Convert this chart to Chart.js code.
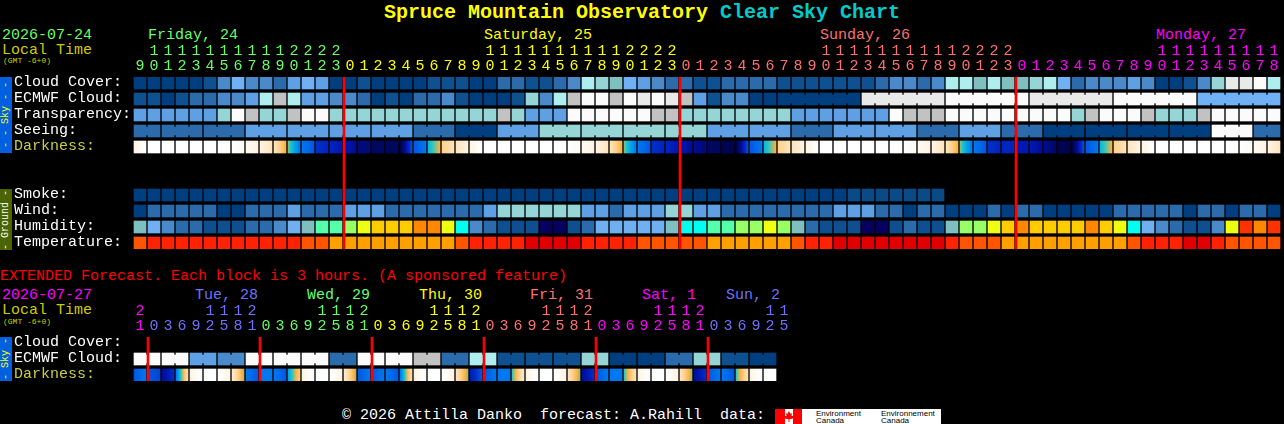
<!DOCTYPE html>
<html>
<head>
<meta charset="utf-8">
<title>Spruce Mountain Observatory Clear Sky Chart</title>
<script src="https://cdn.jsdelivr.net/npm/chart.js@4"></script>
<style>
  html, body { margin: 0; padding: 0; background: #000; width: 1284px; height: 424px; overflow: hidden; }
  canvas { position: absolute; left: 0; }
  .t { position: absolute; font: 15px/16px "Liberation Mono", monospace; white-space: pre; }
  .small { font-size: 8px; line-height: 8px; }
  .title { font: bold 20px/22px "Liberation Mono", monospace; top: 2px; }
  .side { position: absolute; left: 0; width: 12px; overflow: hidden; }
  .side span { position: absolute; left: 6px; top: 50%; font: 10px/12px "Liberation Mono", monospace;
    white-space: pre; transform: translate(-50%, -50%) rotate(-90deg); }
</style>
</head>
<body>
<span class="t title" style="left:384px;color:#ffff00">Spruce Mountain Observatory</span>
<span class="t title" style="left:720px;color:#00cccc">Clear Sky Chart</span>

<span class="t" style="left:2px;top:28px;color:#66ff66">2026-07-24</span>
<span class="t" style="left:2px;top:43px;color:#cccc00">Local Time</span>
<span class="t small" style="left:3px;top:57px;color:#cccc00">(GMT -6+0)</span>
<span class="t" style="left:148px;top:28px;color:#66ff66">Friday, 24</span>
<span class="t" style="left:484px;top:28px;color:#ffff00">Saturday, 25</span>
<span class="t" style="left:820px;top:28px;color:#ff7070">Sunday, 26</span>
<span class="t" style="left:1156px;top:28px;color:#ff00ff">Monday, 27</span>

<div class="side" style="top:77px;height:76px;background:#0060e0;color:#ffff00"><span>- - Sky - -</span></div>
<div class="side" style="top:189px;height:61px;background:#4a6400;color:#ffffff"><span>- Ground -</span></div>

<span class="t" style="left:0;top:269px;color:#ff0000">EXTENDED Forecast. Each block is 3 hours. (A sponsored feature)</span>
<span class="t" style="left:2px;top:288px;color:#ff00ff">2026-07-27</span>
<span class="t" style="left:2px;top:303px;color:#cccc00">Local Time</span>
<span class="t small" style="left:3px;top:318px;color:#cccc00">(GMT -6+0)</span>
<span class="t" style="left:195px;top:288px;color:#7070ff">Tue, 28</span>
<span class="t" style="left:307px;top:288px;color:#66ff66">Wed, 29</span>
<span class="t" style="left:419px;top:288px;color:#ffff00">Thu, 30</span>
<span class="t" style="left:530px;top:288px;color:#ff7070">Fri, 31</span>
<span class="t" style="left:642px;top:288px;color:#ff00ff">Sat, 1</span>
<span class="t" style="left:726px;top:288px;color:#7070ff">Sun, 2</span>

<div class="side" style="top:337px;height:44px;background:#0060e0;color:#ffff00"><span>- Sky -</span></div>

<span class="t" style="left:342px;top:408px;color:#ffffff">© 2026 Attilla Danko  forecast: A.Rahill  data:</span>
<div style="position:absolute;left:775px;top:409px;width:166px;height:15px;background:#fff">
  <div style="position:absolute;left:0;top:0;width:10px;height:15px;background:#ff0000"></div>
  <div style="position:absolute;left:18px;top:0;width:9px;height:15px;background:#ff0000"></div>
  <div style="position:absolute;left:9px;top:2px;width:10px;height:11px;background:#ff0000;clip-path:polygon(50% 0,65% 25%,80% 20%,75% 45%,100% 45%,85% 70%,55% 75%,55% 100%,45% 100%,45% 75%,15% 70%,0 45%,25% 45%,20% 20%,35% 25%)"></div>
  <span style="position:absolute;left:41px;top:1px;font:8px/7px 'Liberation Sans',sans-serif;color:#000;white-space:pre">Environment
Canada</span>
  <span style="position:absolute;left:106px;top:1px;font:8px/7px 'Liberation Sans',sans-serif;color:#000;white-space:pre">Environnement
Canada</span>
</div>

<canvas id="mainChart" width="1284" height="252" style="top:0"></canvas>
<canvas id="extChart" width="1284" height="384" style="top:0"></canvas>

<script>
// hour labels, one per column
var mainHours = [9,10,11,12,13,14,15,16,17,18,19,20,21,22,23,
  0,1,2,3,4,5,6,7,8,9,10,11,12,13,14,15,16,17,18,19,20,21,22,23,
  0,1,2,3,4,5,6,7,8,9,10,11,12,13,14,15,16,17,18,19,20,21,22,23,
  0,1,2,3,4,5,6,7,8,9,10,11,12,13,14,15,16,17,18];
var extHours = [21,
  0,3,6,9,12,15,18,21, 0,3,6,9,12,15,18,21, 0,3,6,9,12,15,18,21,
  0,3,6,9,12,15,18,21, 0,3,6,9,12,15,18,21, 0,3,6,9,12,15];

var mainRows = ["Cloud Cover:", "ECMWF Cloud:", "Transparency:", "Seeing:", "Darkness:", "", "",
  "Smoke:", "Wind:", "Humidity:", "Temperature:"];
var extRows = ["Cloud Cover:", "ECMWF Cloud:", "Darkness:"];

// first column of each day and its colour
var mainDayStarts = [0, 15, 39, 63];
var mainDayColors = ["#66ff66", "#ffff00", "#ff7070", "#ff00ff"];
var extDayStarts = [0, 1, 9, 17, 25, 33, 41];
var extDayColors = ["#ff00ff", "#7070ff", "#66ff66", "#ffff00", "#ff7070", "#ff00ff", "#7070ff"];

// columns where a new local day begins (red marks)
var mainMidnights = [15, 39, 63];
var extMidnights = [1, 9, 17, 25, 33, 41];

// sky levels, 0 = clear ... 11 = overcast
var cloudCover = [0,0,0,0,0,1,3,5,3,3,2,4,5,4,0, 0,1,0,0,0,0,
  1,1,1,0,0,2,2,1,1,2,3, 8,7,6,5,4,3,2,
  2,1,1,2,2,2,2,1,1,1,1,1,1, 1,2,3,3,2,3,
  8,8,6,8,6,6,7,8, 5,2,3,3,3,4,3, 0,0,1,3,7,10,10,11,8];
var ecmwfCloud = [1,1,0,1,2,2,3,3,4,8,9,8,4,4,3,3,2,0,1,0,2,
  2,3,1,0,0,0,1,7,3,8,9,11,11,9,11,10,11,10,9,4,1,3,3,0,0,
  0,0,0,0,0,0, 10,10,10,10,10,10, 11,11,11,11,11,11,
  10,10,10,10,10,10, 11,11,11,11,11,11, 5,5,5,5,5,5];
var transparency = [4,4,4,4,4,4,7,11,9,7,7,9,11,11,7,7,7,7,7,7,7,
  7,7,7,7,7,9,7,4,4,4,11,11,11,11,11,11,9,9,7,7,7,7,7,7,7,7,
  4,4,4,4,4,4,4,
  11,9,9,9,11,11,11,11,11,11,11,11,11,7,9,11,11,11,9,7,7,7,9,11,11,11,11,11];
var seeing = [2,2,2,2,2,2,2,2, 4,4,4,4,4,4,4,4,4,4,4,4, 2,2,2, 0,0,0, 4,4,4,
  7,7,7,7,7,7,7,7,7,7,7,7, 4,4,4,4,4,4, 2,2,2, 4,4,4,4,4,4, 2,2,2, 4,4,4, 2,2,2,
  0,0,0,0,0,0,0,0,0,0,0,0, 11,11,11, 2,2];
var smoke = [0,0,0,0,0,0,0,0,0,0,0,0,0,0,0,0,0,0,0,0,0,0,0,0,0,0,
  0,0,0,0,0,0,0,0,0,0,0,0,0,0,0,0,0,0,0,0,0,0,0,0,0, 1,1,1,1,1,1,1];
var wind = [0,2,2,2,2,2,0,0,2,2,2,4,2,2,2,4,4,4,2,2,2,
  2,2,2,2,4,7,7,7,7,7,7,4,4,2,4,4,4,7,7,4,4,2,2,2,2,2,2,2,2,4,4,
  4,2,2,0,2,2,0,0,0,2,0,2,2,0,0,0,0,0,2,2,2,2,2,0,2,2,0,2,2,0];
var humidity = [5,4,3,2,2,1,1,1,2,2,3,4,5,7,7,8,9,10,10,10,11,
  11,9,6,3,2,1,1,1,0,0,1,2,4,4,4,4,4,5,6,6,7,7,8,8,9,8,5,2,1,1,1,
  0,0,1,2,1,1,5,8,8,9,10,11,10,10,10,10,11,10,9,6,4,3,2,1,1,3,9,12,11,12];
var temperature = [2,1,1,1,1,1,1,1,1,1,1,1,2,2,3,3,3,3,3,3,3,3,3,2,
  1,1,1,1,0,0,0,0,1,1,1,1,2,2,2,2,2,3,3,3,3,3,3,2,1,1,
  0,0,0,0,0,0,0,0,1,2,2,2,3,3,3,3,3,3,3,3,3,2,1,1,1,0,0,1,2,2,2,2];
// darkness level at the left and right edge of each block
var darkStart = [1,0,0,0,0,0,0,0,.5,1,2,4.5,7,9,9.5,10,11.5,12,12,13,8,5.5,3,2,1,
  0,0,0,0,0,0,0,.5,1,2,4.5,7,9,9.5,10,11,12,12.5,13,8,5.5,3,2,1,
  0,0,0,0,0,0,0,.5,1,2,4.5,7,9,9.5,10,10,11,12.5,13,8,5.5,3,2,1,
  0,0,0,0,0,0,0,.5,1];
var darkEnd = [0,0,0,0,0,0,0,.5,1,2,4,7,8,9.5,10,11,11.5,12,12,8,7,4,2,1,0,
  0,0,0,0,0,0,.5,1,2,4,7,8,9.5,10,11,11.5,12,12.5,8,7,4,2,1,0,
  0,0,0,0,0,0,.5,1,2,4,7,8,9.5,9.5,10,11,12,12.5,8,7,4,2,1,0,
  0,0,0,0,0,0,.5,1,2];

// extended forecast
var extEcmwf = [11,11,11,11,4,4,3,3,11,11,11,11,11,11,2,2,11,11,11,11,9,9,2,2,
  8,8,1,1,1,1,1,1,7,7,0,0,0,0,2,2,7,7,1,1,0,0];
var extDarkStart = [8,8,11,7,1,0,0,1.5,7,7,7,6,1,0,0,1.5,8,8,7,7,1,0,0,2,
  10,8,7,5,1,0,0,2,11,8,7,5,1,0,0,2,11,8,7,5,1,0];
var extDarkEnd = [7,8.5,9,2,0,0,1,4.5,8,7,8,3,0,0,1,4.5,7,7,8,2,0,0,1,4.6,
  8,7,7,1.5,0,0,1,4.6,9,7,7,2,0,0,1,4.6,9,7,8,2,0,0];

// blocks that the forecast joins together (sizes in columns)
var seeingBlocks = [2,3,3,3,3,3,3,3,3,3,3,3,3,3,3,3,3,3,3,3,3,3,3,3,3,3,3,2];
var ecmwfBlocks = [1,1,1,1,1,1,1,1,1,1,1,1,1,1,1,1,1,1,1,1,1,1,1,1,1,1,1,1,1,1,1,1,1,1,1,1,1,1,1,1,1,1,1,1,1,1,6,6,6,6,6,6];
var extEcmwfBlocks = [2,2,2,2,2,2,2,2,2,2,2,2,2,2,2,2,2,2,2,2,2,2,2];

// colour tables
var skyColors = ["#003f7f","#0f5090","#2b6bab","#4a8aca","#5f9fe3","#70b0f4",
  "#7fbfbf","#95d5d5","#aeeeee","#c2c2c2","#e9e9e9","#fbfbfb"];
var smokeColors = ["#003f7f", "#0a4a86"];
var humidityColors = ["#08005e","#0f4f8f","#2b6bab","#4a8aca","#70b0f0","#7fbfbf",
  "#00ffee","#55ffaa","#99ff66","#eeff11","#ffcc00","#ff8800","#ff3300"];
var temperatureColors = ["#e00000", "#ff2200", "#ff5500", "#ffa000"];
var darkRamp = [[255,255,255],[255,244,228],[255,228,188],[255,208,140],[255,176,64],[32,200,200],
  [0,160,240],[0,120,240],[0,88,224],[0,48,200],[0,24,180],[0,12,148],[0,8,94],[0,0,68]];

var FONT = "'Liberation Mono', monospace";
// row labels sit a little above the middle of their row
var LABEL_POS = 0.42;

function rampColor(level) {
  var a = Math.floor(level), b = Math.min(a + 1, darkRamp.length - 1), f = level - a;
  var c = darkRamp[a].map(function (v, k) { return Math.round(v + (darkRamp[b][k] - v) * f); });
  return "rgb(" + c.join(",") + ")";
}

// one dataset of 12px cells for a row
function cells(values, row, colors) {
  return {
    data: values.map(function (v, i) { return { x: i + 0.5, y: [row + 0.125, row + 0.875] }; }),
    backgroundColor: values.map(function (v) { return colors[v]; }),
    barThickness: 12,
    order: 2
  };
}

// thin links between the cells of a joined block
function links(values, row, colors, blocks) {
  var data = [], bg = [], col = 0;
  blocks.forEach(function (size) {
    for (var i = 1; i < size; ++i) {
      data.push({ x: col + i, y: [row + 0.25, row + 0.75] });
      bg.push(colors[values[col + i]]);
    }
    col += size;
  });
  return { data: data, backgroundColor: bg, barThickness: 2, order: 3 };
}

function darkCells(starts, ends, row) {
  return {
    data: starts.map(function (v, i) { return { x: i + 0.5, y: [row + 0.125, row + 0.875] }; }),
    backgroundColor: function (context) {
      var i = context.dataIndex;
      if (i === undefined) return "#fff";
      var mid = context.chart.scales.x.getPixelForValue(i + 0.5);
      // the scale has no pixels yet on the first pass
      if (!isFinite(mid)) return "#fff";
      var g = context.chart.ctx.createLinearGradient(mid - 6, 0, mid + 6, 0);
      var s = starts[i], e = ends[i];
      g.addColorStop(0, rampColor(s));
      for (var n = Math.ceil(Math.min(s, e)); n <= Math.max(s, e); ++n) {
        g.addColorStop((n - s) / ((e - s) || 1), rampColor(n));
      }
      g.addColorStop(1, rampColor(e));
      return g;
    },
    barThickness: 12,
    order: 2
  };
}

// the red day marks sit on the first pixel of the new day's block
function dayMarks(cols, maxY) {
  return {
    data: cols.map(function (c) { return { x: c + 1 / 14, y: [0.125, maxY] }; }),
    backgroundColor: "#ff0000",
    barThickness: 2,
    order: 1
  };
}

function dayColor(col, starts, colors) {
  var k = 0;
  for (var i = 0; i < starts.length; ++i) if (col >= starts[i]) k = i;
  return colors[k];
}

function makeChart(id, hours, rows, datasets, starts, colors, top, rightPad, bottomPad) {
  return new Chart(document.getElementById(id), {
    type: "bar",
    data: { datasets: datasets },
    options: {
      responsive: false,
      animation: false,
      devicePixelRatio: 1,
      events: [],
      layout: { padding: { left: 14, right: rightPad, top: 0, bottom: bottomPad } },
      plugins: { legend: { display: false }, tooltip: { enabled: false } },
      datasets: { bar: { grouped: false, borderWidth: 0 } },
      scales: {
        x: {
          type: "linear",
          position: "top",
          offset: false,
          min: 0,
          max: hours.length,
          grid: { display: false, drawTicks: false },
          border: { display: false },
          afterBuildTicks: function (scale) {
            scale.ticks = hours.map(function (h, i) { return { value: i + 0.5 }; });
          },
          afterFit: function (scale) {
            scale.height = top;
            scale.paddingLeft = 0;
            scale.paddingRight = 0;
          },
          ticks: {
            autoSkip: false,
            maxRotation: 0,
            padding: 3,
            font: { family: FONT, size: 15, lineHeight: 1 },
            color: function (c) { return dayColor(c.tick.value - 0.5, starts, colors); },
            callback: function (v) {
              var s = String(hours[v - 0.5]);
              return s.length > 1 ? [s[0], s[1]] : ["", s];
            }
          }
        },
        y: {
          type: "linear",
          reverse: true,
          min: 0.125,
          max: rows.length - 0.125,
          grid: { display: false, drawTicks: false },
          border: { display: false },
          afterBuildTicks: function (scale) {
            scale.ticks = rows.map(function (r, i) { return { value: i + LABEL_POS }; });
          },
          afterFit: function (scale) {
            scale.width = 119;
            scale.paddingTop = 0;
            scale.paddingBottom = 0;
          },
          ticks: {
            autoSkip: false,
            crossAlign: "far",
            padding: 0,
            font: { family: FONT, size: 15 },
            color: function (c) {
              return rows[Math.floor(c.tick.value)] === "Darkness:" ? "#cccc44" : "#ffffff";
            },
            callback: function (v) { return rows[Math.floor(v)]; }
          }
        }
      }
    }
  });
}

makeChart("mainChart", mainHours, mainRows, [
  dayMarks(mainMidnights, 10.875),
  cells(cloudCover, 0, skyColors),
  cells(ecmwfCloud, 1, skyColors),
  links(ecmwfCloud, 1, skyColors, ecmwfBlocks),
  cells(transparency, 2, skyColors),
  cells(seeing, 3, skyColors),
  links(seeing, 3, skyColors, seeingBlocks),
  darkCells(darkStart, darkEnd, 4),
  cells(smoke, 7, smokeColors),
  cells(wind, 8, skyColors),
  cells(humidity, 9, humidityColors),
  cells(temperature, 10, temperatureColors)
], mainDayStarts, mainDayColors, 77, 3, 3);

makeChart("extChart", extHours, extRows, [
  dayMarks(extMidnights, 2.875),
  cells(extEcmwf, 1, skyColors),
  links(extEcmwf, 1, skyColors, extEcmwfBlocks),
  darkCells(extDarkStart, extDarkEnd, 2)
], extDayStarts, extDayColors, 337, 1284 - 133 - 14 * extHours.length, 3);
</script>
</body>
</html>
